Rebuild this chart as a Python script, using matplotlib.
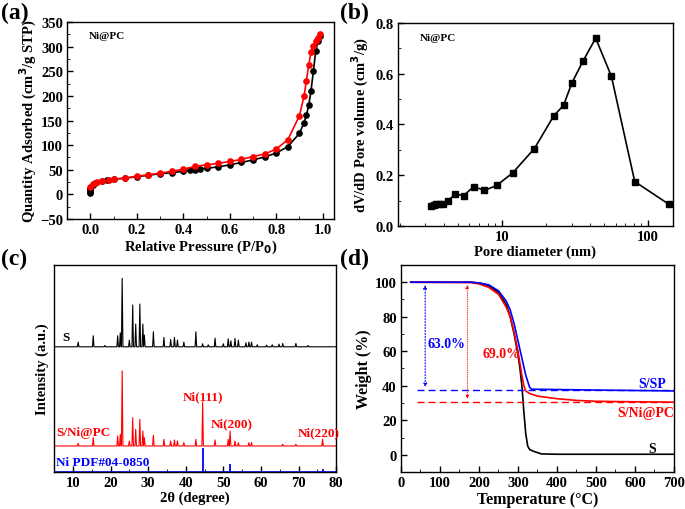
import numpy as np
import matplotlib
matplotlib.use("Agg")
import matplotlib.pyplot as plt
from matplotlib.ticker import MultipleLocator, NullLocator

plt.rcParams['font.family'] = ['Liberation Serif', 'DejaVu Serif']
plt.rcParams['font.weight'] = 'bold'
plt.rcParams['axes.labelweight'] = 'bold'
plt.rcParams['xtick.direction'] = 'in'
plt.rcParams['ytick.direction'] = 'in'

# (a) N2 isotherm
ads_p = [0.0, 0.0, 0.0, 0.0, 0.01, 0.02, 0.05, 0.07, 0.1, 0.15, 0.2, 0.25, 0.3, 0.35, 0.4, 0.43, 0.45,
         0.47, 0.5, 0.55, 0.6, 0.65, 0.7, 0.75, 0.8, 0.85, 0.9, 0.92, 0.93, 0.94, 0.95, 0.96, 0.97, 0.98, 0.99]
ads_q = [2, 5, 8, 12, 20, 23, 27, 29, 31, 33, 36, 39, 42, 44, 47, 49, 50,
         52, 53, 56, 60, 65, 70, 76, 84, 97, 124, 146, 161, 181, 211, 250, 291, 311, 322]
des_p = [0.99, 0.98, 0.97, 0.96, 0.95, 0.94, 0.93, 0.92, 0.9, 0.85, 0.8, 0.75, 0.7, 0.65, 0.6, 0.55,
         0.5, 0.45, 0.4, 0.35, 0.3, 0.25, 0.2, 0.15, 0.1, 0.08, 0.05, 0.03, 0.02, 0.01, 0.0]
des_q = [326, 318, 312, 302, 289, 263, 231, 200, 160, 111, 92, 82, 77, 71, 67, 63,
         60, 57, 51, 47, 43, 40, 37, 33, 31, 29, 27, 25, 23, 21, 15]

# (b) pore size distribution
pore_d = [3.28, 3.42, 3.57, 3.74, 3.94, 4.27, 4.82, 5.49, 6.43, 7.61, 9.24, 11.9, 16.7, 22.7,
          26.4, 30.2, 35.9, 43.8, 56.1, 81.0, 139]
pore_v = [0.080, 0.082, 0.085, 0.086, 0.088, 0.100, 0.125, 0.120, 0.155, 0.140, 0.160, 0.210,
          0.305, 0.435, 0.475, 0.565, 0.650, 0.740, 0.590, 0.175, 0.085]

# (c) XRD peaks (2theta, height above baseline)
s_pos = [11.4, 15.4, 18.5, 21.9, 22.6, 23.1, 25.0, 25.9, 26.7, 27.8, 28.6, 29.0, 31.4, 34.2, 36.0,
         37.0, 37.8, 39.5, 42.7, 44.5, 46.0, 47.8, 50.0, 51.3, 52.0, 53.1, 54.0, 56.0, 56.8, 57.5,
         59.0, 61.5, 63.0, 64.8, 65.8, 69.3, 72.5]
s_h = [14, 33, 4, 33, 42, 205, 20, 125, 68, 128, 68, 35, 45, 28, 22,
       28, 20, 14, 45, 9, 6, 26, 9, 24, 18, 25, 20, 12, 14, 14,
       6, 5, 6, 8, 10, 10, 4]
sni_pos = [11.4, 15.4, 21.9, 22.6, 23.1, 25.0, 25.9, 26.7, 27.8, 28.6, 29.0, 31.4, 34.2, 36.0,
           37.0, 37.8, 39.5, 42.7, 44.5, 47.8, 51.3, 51.8, 53.1, 54.0, 56.8, 57.5, 65.8, 69.3, 76.4]
sni_h = [8, 25, 30, 35, 225, 15, 85, 50, 80, 45, 25, 32, 20, 15,
         18, 15, 10, 20, 132, 18, 20, 45, 15, 10, 10, 10, 5, 5, 20]
pdf_pos = [44.5, 51.8, 76.4]
pdf_h = [71, 25, 8]

# (d) TGA
t_s = [25, 180, 200, 225, 250, 270, 280, 290, 300, 305, 310, 315, 320, 325, 330, 340, 360, 400, 700]
w_s = [100, 100, 99.5, 98, 94, 87, 80, 70, 58, 50, 40, 25, 12, 5, 3, 2, 0.5, 0.3, 0.3]
t_sp = [25, 180, 200, 225, 250, 270, 280, 290, 300, 310, 320, 330, 335, 400, 500, 700]
w_sp = [100, 100, 99.6, 98.5, 95, 89, 84, 76, 66, 56, 46, 39, 38, 37.8, 37.5, 37]
t_ni = [25, 180, 200, 225, 250, 270, 280, 290, 300, 310, 315, 320, 330, 350, 400, 450, 500, 600, 700]
w_ni = [100, 99.8, 99, 97, 93, 85.5, 80, 71, 60, 46, 40, 37, 35.5, 34, 32.5, 31.5, 31, 30.7, 30.5]


def xrd_line(pos, h, base, w=0.2):
    xs, ys = [5], [base]
    for p, hh in zip(pos, h):
        xs += [p - w, p, p + w]
        ys += [base, base + hh, base]
    xs.append(80)
    ys.append(base)
    return xs, ys


fig = plt.figure(figsize=(6.85, 5.10), dpi=100)
ax1 = fig.add_axes([0.098, 0.5686, 0.390, 0.386])
ax2 = fig.add_axes([0.581, 0.555, 0.4015, 0.398])
ax3 = fig.add_axes([0.079, 0.0725, 0.4117, 0.406])
ax4 = fig.add_axes([0.5854, 0.0725, 0.3985, 0.406])

tick_fs = 10.5
lab_fs = 10.5

# (a)
ax1.plot(ads_p, ads_q, 'o-', color='black', ms=3.8, lw=1.2)
ax1.plot(des_p, des_q, 'o-', color='red', ms=3.8, lw=1.2)
ax1.set_xlim(-0.1, 1.05)
ax1.set_ylim(-50, 350)
ax1.xaxis.set_major_locator(MultipleLocator(0.2))
ax1.xaxis.set_minor_locator(MultipleLocator(0.1))
ax1.yaxis.set_major_locator(MultipleLocator(50))
ax1.yaxis.set_minor_locator(MultipleLocator(25))
ax1.set_xlabel('Relative Pressure (P/P$_\\mathbf{0}$)', fontsize=lab_fs, labelpad=1)
ax1.set_ylabel('Quantity Adsorbed (cm$^\\mathbf{3}$/g STP)', fontsize=lab_fs, labelpad=1)
ax1.text(0.08, 0.93, 'Ni@PC', transform=ax1.transAxes, fontsize=8, fontweight='bold', va='center')

# (b)
ax2.plot(pore_d, pore_v, 's-', color='black', ms=3.8, lw=1.2)
ax2.set_xscale('log')
ax2.set_xlim(1.95, 148)
ax2.set_ylim(0, 0.8)
ax2.set_xticks([10, 100])
ax2.set_xticklabels(['10', '100'])
ax2.yaxis.set_major_locator(MultipleLocator(0.2))
ax2.yaxis.set_minor_locator(MultipleLocator(0.1))
ax2.set_xlabel('Pore diameter (nm)', fontsize=lab_fs, labelpad=1)
ax2.set_ylabel('dV/dD Pore volume (cm$^\\mathbf{3}$/g)', fontsize=lab_fs, labelpad=3)
ax2.text(0.08, 0.93, 'Ni@PC', transform=ax2.transAxes, fontsize=8, fontweight='bold', va='center')

# (c)
xs, ys = xrd_line(s_pos, s_h, 375)
ax3.plot(xs, ys, color='black', lw=0.8)
xs, ys = xrd_line(sni_pos, sni_h, 78)
ax3.plot(xs, ys, color='red', lw=0.8)
ax3.vlines(pdf_pos, 0, pdf_h, color='blue', lw=1.3)
ax3.axhline(0.5, color='blue', lw=1.2)
ax3.set_xlim(5, 80)
ax3.set_ylim(0, 620)
ax3.xaxis.set_major_locator(MultipleLocator(10))
ax3.xaxis.set_minor_locator(MultipleLocator(5))
ax3.yaxis.set_major_locator(NullLocator())
ax3.set_xlabel('2θ (degree)', fontsize=lab_fs, labelpad=1)
ax3.set_ylabel('Intensity (a.u.)', fontsize=lab_fs, labelpad=4)
ax3.text(7.3, 405, 'S', fontsize=9.5, fontweight='bold', color='black', va='center')
ax3.text(5.7, 120, 'S/Ni@PC', fontsize=9.5, fontweight='bold', color='red', va='center')
ax3.text(44.5, 228, 'Ni(111)', fontsize=9.5, fontweight='bold', color='red', va='center', ha='center')
ax3.text(52.2, 145, 'Ni(200)', fontsize=9.5, fontweight='bold', color='red', va='center', ha='center')
ax3.text(75.3, 120, 'Ni(220)', fontsize=9.5, fontweight='bold', color='red', va='center', ha='center')
ax3.text(5.5, 31, 'Ni PDF#04-0850', fontsize=9.5, fontweight='bold', color='blue', va='center')

# (d)
ax4.plot(t_s, w_s, color='black', lw=1.2)
ax4.plot(t_ni, w_ni, color='red', lw=1.2)
ax4.plot(t_sp, w_sp, color='blue', lw=1.2)
ax4.hlines(37.6, 40, 700, color='blue', lw=1, linestyles=(0, (5, 3)))
ax4.hlines(30.8, 40, 700, color='red', lw=1, linestyles=(0, (5, 3)))
ax4.annotate('', xy=(62, 37.6), xytext=(62, 100),
             arrowprops=dict(arrowstyle='<|-|>', color='blue', lw=0.8, ls=':', mutation_scale=5))
ax4.annotate('', xy=(170, 30.8), xytext=(170, 100),
             arrowprops=dict(arrowstyle='<|-|>', color='red', lw=0.6, ls=':', mutation_scale=5))
ax4.text(67, 64.4, '63.0%', fontsize=10, fontweight='bold', color='blue', va='center')
ax4.text(209, 58.6, '69.0%', fontsize=10, fontweight='bold', color='red', va='center')
ax4.text(645, 41.3, 'S/SP', fontsize=10, fontweight='bold', color='blue', va='center', ha='center')
ax4.text(627, 24.6, 'S/Ni@PC', fontsize=10, fontweight='bold', color='red', va='center', ha='center')
ax4.text(645, 3.5, 'S', fontsize=10, fontweight='bold', color='black', va='center', ha='center')
ax4.set_xlim(0, 700)
ax4.set_ylim(-10, 110)
ax4.xaxis.set_major_locator(MultipleLocator(100))
ax4.xaxis.set_minor_locator(MultipleLocator(50))
ax4.yaxis.set_major_locator(MultipleLocator(20))
ax4.yaxis.set_minor_locator(MultipleLocator(10))
ax4.set_xlabel('Temperature (°C)', fontsize=11.5, labelpad=1)
ax4.set_ylabel('Weight (%)', fontsize=11.5, labelpad=2)

for ax in (ax1, ax2, ax3, ax4):
    ax.tick_params(labelsize=tick_fs, width=1, length=4, pad=3)
    ax.tick_params(which='minor', length=2)
    for s in ax.spines.values():
        s.set_linewidth(1)

fig.text(0.002, 0.995, '(a)', fontsize=17, fontweight='bold', va='top')
fig.text(0.497, 0.995, '(b)', fontsize=17, fontweight='bold', va='top')
fig.text(0.002, 0.512, '(c)', fontsize=17, fontweight='bold', va='top')
fig.text(0.497, 0.512, '(d)', fontsize=17, fontweight='bold', va='top')

fig.savefig('out.png', dpi=100)
